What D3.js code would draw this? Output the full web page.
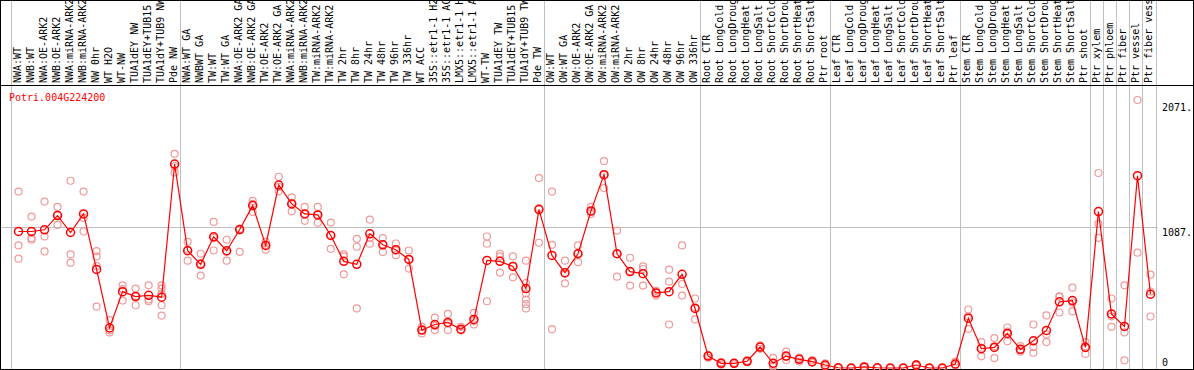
<!DOCTYPE html>
<html>
<head>
<meta charset="utf-8">
<script src="https://cdn.jsdelivr.net/npm/d3@7"></script>
<style>
  body { margin: 0; background: #fff; }
  text { font-family: "DejaVu Sans Mono", monospace; font-size: 10px; }
</style>
</head>
<body>
<div id="chart"></div>
<script>
// sample labels, one per column
var labels = [
  "NWA:WT", "NWB:WT", "NWA:OE-ARK2", "NWB:OE-ARK2", "NWA:miRNA-ARK2", "NWB:miRNA-ARK2",
  "NW 0hr", "WT H2O", "WT-NW", "TUA1dEY NW", "TUA1dEY+TUB15 NW", "TUA1dY+TUB9 NW", "Pde NW",
  "NWA:WT GA", "NWBWT GA", "TW:WT", "TW:WT GA", "NWA:OE-ARK2 GA", "NWB:OE-ARK2 GA",
  "TW:OE-ARK2", "TW:OE-ARK2 GA", "NWA:miRNA-ARK2", "NWB:miRNA-ARK2", "TW:miRNA-ARK2", "TW:miRNA-ARK2",
  "TW 2hr", "TW 8hr", "TW 24hr", "TW 48hr", "TW 96hr", "TW 336hr", "WT ACC",
  "35S::etr1-1 H2O", "35S::etr1-1 ACC", "LMX5::etr1-1 H2O", "LMX5::etr1-1 ACC",
  "WT-TW", "TUA1dEY TW", "TUA1dEY+TUB15 TW", "TUA1dY+TUB9 TW", "Pde TW",
  "OW:WT", "OW:WT GA", "OW:OE-ARK2", "OW:OE-ARK2 GA", "OW:miRNA-ARK2", "OW:miRNA-ARK2",
  "OW 2hr", "OW 8hr", "OW 24hr", "OW 48hr", "OW 96hr", "OW 336hr",
  "Root CTR", "Root LongCold", "Root LongDrought", "Root LongHeat", "Root LongSalt",
  "Root ShortCold", "Root ShortDrought", "Root ShortHeat", "Root ShortSalt", "Ptr root",
  "Leaf CTR", "Leaf LongCold", "Leaf LongDrought", "Leaf LongHeat", "Leaf LongSalt",
  "Leaf ShortCold", "Leaf ShortDrought", "Leaf ShortHeat", "Leaf ShortSalt", "Ptr leaf",
  "Stem CTR", "Stem LongCold", "Stem LongDrought", "Stem LongHeat", "Stem LongSalt",
  "Stem ShortCold", "Stem ShortDrought", "Stem ShortHeat", "Stem ShortSalt", "Ptr shoot",
  "Ptr xylem", "Ptr phloem", "Ptr fiber", "Ptr vessel", "Ptr fiber vessel"
];

// columns per group (separator lines between them)
var groupSizes = [13, 28, 12, 10, 10, 10, 1, 1, 1, 1, 1];

// mean expression per column
var means = [
  1055, 1055, 1068, 1178, 1047, 1191, 762, 310, 590, 552, 562, 547, 1576,
  906, 801, 1014, 906, 1070, 1255, 947, 1414, 1268, 1191, 1183, 1024, 824, 801,
  1037, 952, 914, 839, 293, 336, 352, 300, 375, 831, 824, 785, 614, 1224,
  870, 737, 883, 1214, 1494, 883, 745, 729, 580, 590, 724, 460,
  92, 36, 36, 52, 162, 36, 92, 67, 49, 23,
  2, 0, 8, 2, 0, 0, 23, 0, 0, 31,
  385, 149, 159, 267, 144, 210, 290, 511, 521, 159,
  1209, 418, 321, 1486, 570
];

// replicate values per column
var reps = [
  [1363, 947, 845], [1170, 1003, 991], [1286, 1016, 901], [1245, 1106, 1183], [1447, 878, 814],
  [1363, 1055, 1160], [903, 862, 788, 475], [370, 275, 290], [639, 521, 610], [614, 485, 557],
  [639, 516, 530], [639, 614, 575, 485, 405], [1655, 1511, 1560],
  [975, 829, 914], [883, 714, 806], [1129, 908, 1005], [991, 829, 898], [898, 1065, 1075],
  [1291, 1206, 1268], [975, 914, 952], [1478, 1365, 1400], [1319, 1211, 1275], [1245, 1137, 1191],
  [1245, 1122, 1183], [1124, 921, 1027], [878, 862, 724], [998, 937, 460], [1147, 960, 1005],
  [1003, 896, 957], [962, 872, 908], [908, 768, 841], [318, 267, 293], [390, 293, 325],
  [418, 293, 345], [318, 290, 292], [426, 336, 363], [1016, 960, 516], [883, 862, 737],
  [862, 701, 790], [829, 657, 575, 529, 493, 460], [1468, 968, 1236],
  [1363, 952, 300], [829, 654, 728], [947, 818, 884], [1245, 1191, 1206], [1599, 1391, 1492],
  [1062, 706, 881], [852, 637, 746], [785, 637, 765], [596, 560, 584], [760, 667, 336],
  [947, 649, 560], [537, 375, 468],
  [100, 80, 95], [45, 25, 38], [40, 30, 38], [58, 45, 53], [175, 148, 163],
  [79, 10, 20], [126, 62, 88], [80, 50, 70], [62, 40, 45], [36, 18, 15],
  [4, 1, 2], [1, 0, 0], [12, 5, 7], [3, 2, 1], [1, 0, 0],
  [0, 0, 1], [30, 18, 21], [1, 0, 0], [0, 1, 0], [49, 22, 23],
  [452, 303, 400], [200, 90, 157], [231, 77, 169], [313, 206, 282], [169, 126, 137],
  [336, 162, 118], [406, 259, 200], [554, 429, 550], [621, 437, 505], [200, 108, 169],
  [1507, 1114, 1006], [537, 318, 399], [639, 275, 59], [2071, 891], [721, 398, 591]
];

// right axis ticks
var tickValues = [0, 1087, 2071];
var tickLabels = ["0", "1087.", "2071."];

var geneName = "Potri.004G224200";

var width = 1194, height = 370;
var headerBottom = 85;

var svg = d3.select("#chart")
  .append("svg")
  .attr("width", width)
  .attr("height", height);

// x: one band per sample
var x = d3.scaleBand()
  .domain(d3.range(labels.length))
  .range([10.5, 1155.5]);

var y = d3.scaleLinear()
  .domain([0, 2071])
  .range([368, 100]);

// horizontal grid line
svg.append("line")
  .attr("x1", 0).attr("x2", 1158)
  .attr("y1", Math.round(y(1087)) + 0.5)
  .attr("y2", Math.round(y(1087)) + 0.5)
  .attr("stroke", "#c0c0c0");

// group separators
var seps = [0];
groupSizes.forEach(function (n) { seps.push(seps[seps.length - 1] + n); });
svg.selectAll("sepline")
  .data(seps)
  .enter()
  .append("line")
  .attr("x1", function (d) { return Math.round(d === labels.length ? x(d - 1) + x.bandwidth() : x(d)) + 0.5; })
  .attr("x2", function (d) { return Math.round(d === labels.length ? x(d - 1) + x.bandwidth() : x(d)) + 0.5; })
  .attr("y1", 0)
  .attr("y2", height)
  .attr("stroke", "#c0c0c0");

// header labels, rotated
svg.selectAll("collabel")
  .data(labels)
  .enter()
  .append("text")
  .attr("transform", function (d, i) {
    return "translate(" + (x(i) + 10) + "," + (headerBottom - 2) + ")rotate(-90)";
  })
  .attr("fill", "black")
  .text(function (d) { return d; });

// header separator and border
svg.append("line")
  .attr("x1", 0).attr("x2", width)
  .attr("y1", headerBottom + 0.5).attr("y2", headerBottom + 0.5)
  .attr("stroke", "black");
svg.append("rect")
  .attr("x", 0.5).attr("y", 0.5)
  .attr("width", width - 1).attr("height", height - 1)
  .attr("fill", "none")
  .attr("stroke", "black");

// gene name
svg.append("text")
  .attr("x", 9)
  .attr("y", 101)
  .attr("fill", "red")
  .text(geneName);

// right axis
var axis = svg.append("g")
  .attr("transform", "translate(1162,0)")
  .call(d3.axisRight(y).tickValues(tickValues).tickSize(0)
    .tickFormat(function (d, i) { return tickLabels[i]; }));
axis.select(".domain").remove();
axis.selectAll("text")
  .attr("x", 0)
  .attr("dy", function (d) { return d === 0 ? "-0.3em" : (d === 2071 ? "1.0em" : "0.85em"); })
  .style("font-family", "DejaVu Sans Mono, monospace")
  .style("font-size", "10px")
  .attr("fill", "black");

// replicate points
var repPts = [];
reps.forEach(function (arr, i) {
  arr.forEach(function (v) { repPts.push({ i: i, v: v }); });
});
svg.selectAll("repcircle")
  .data(repPts)
  .enter()
  .append("circle")
  .attr("cx", function (d) { return x(d.i) + 8; })
  .attr("cy", function (d) { return y(d.v); })
  .attr("r", 3.5)
  .attr("fill", "none")
  .attr("stroke", "#f09a9a")
  .attr("stroke-width", 1.2);

// mean line
var line = d3.line()
  .x(function (d, i) { return x(i) + 8; })
  .y(function (d) { return y(d); });
svg.append("path")
  .datum(means)
  .attr("d", line)
  .attr("fill", "none")
  .attr("stroke", "red")
  .attr("stroke-width", 1.2);

// mean points
svg.selectAll("meancircle")
  .data(means)
  .enter()
  .append("circle")
  .attr("cx", function (d, i) { return x(i) + 8; })
  .attr("cy", function (d) { return y(d); })
  .attr("r", 4)
  .attr("fill", "none")
  .attr("stroke", "red")
  .attr("stroke-width", 1.5);
</script>
</body>
</html>
